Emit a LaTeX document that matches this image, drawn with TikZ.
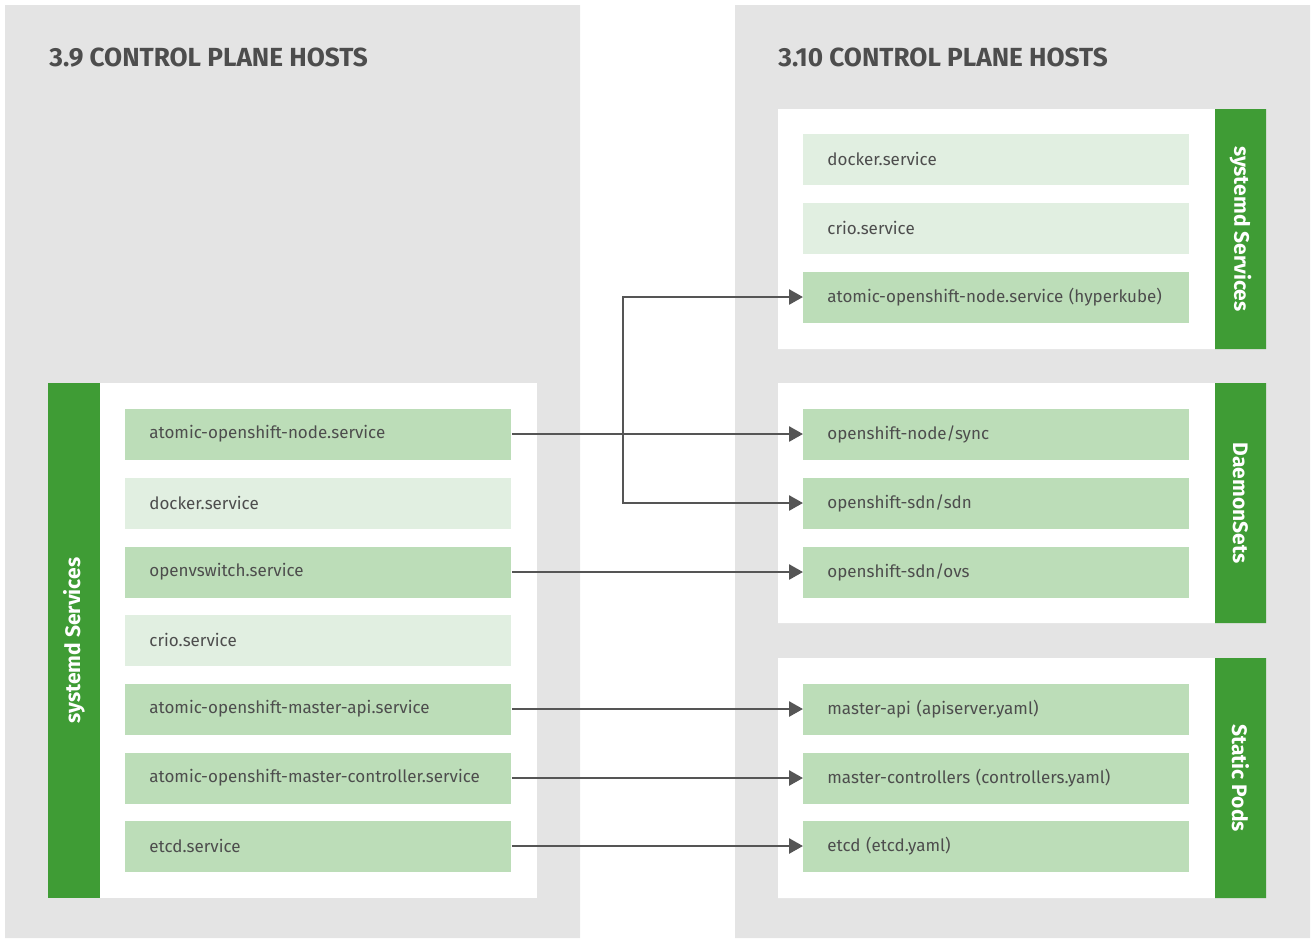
\documentclass[tikz,border=0pt]{standalone}
\usepackage{fontspec}
\setmainfont{Fira Sans}
\usetikzlibrary{arrows.meta}
\definecolor{hostgray}{HTML}{E4E4E4}
\definecolor{lightgreen}{HTML}{E1EFE1}
\definecolor{midgreen}{HTML}{BCDDB8}
\definecolor{darkgreen}{HTML}{3F9C35}
\definecolor{textgray}{HTML}{4D4D4D}
\definecolor{arrowgray}{HTML}{555555}
\tikzset{svc/.style={anchor=west,minimum height=25.5pt,text width=169pt,inner xsep=12pt,
    align=left,text=textgray,font=\fontsize{8.5}{10}\selectfont},
  moved/.style={svc,fill=midgreen},
  kept/.style={svc,fill=lightgreen},
  barlabel/.style={text=white,font=\fontsize{10.5}{12}\selectfont\bfseries},
  hosttitle/.style={anchor=base west,inner sep=0pt,text=textgray,font=\fontsize{13.1}{15}\selectfont\bfseries},
  link/.style={arrowgray,line width=1.3pt,-{Triangle[length=7pt,width=7.5pt]}}}
\begin{document}
\begin{tikzpicture}[x=0.5pt,y=-0.5pt]
\useasboundingbox (0,0) rectangle (1311,939);
\fill[hostgray] (5,5) rectangle (580,938) (735,5) rectangle (1310,938);
\node[hosttitle] (old) at (49,66) {3.9 CONTROL PLANE HOSTS};
\node[hosttitle] (new) at (778,66) {3.10 CONTROL PLANE HOSTS};
\fill[white] (100,383) rectangle (537,898);
\fill[white] (778,109) rectangle (1215,349) (778,383) rectangle (1215,623) (778,658) rectangle (1215,898);
\fill[darkgreen] (48,383) rectangle (100,898);
\fill[darkgreen] (1215,109) rectangle (1266,349) (1215,383) rectangle (1266,623) (1215,658) rectangle (1266,898);
\node[barlabel,rotate=90] (oldsys) at (74,640.5) {systemd Services};
\node[barlabel,rotate=-90] (newsys) at (1240.5,229) {systemd Services};
\node[barlabel,rotate=-90] (ds) at (1240.5,503) {DaemonSets};
\node[barlabel,rotate=-90] (sp) at (1240.5,778) {Static Pods};
\node[moved] (onode) at (125,434) {atomic-openshift-node.service};
\node[kept] (odocker) at (125,503) {docker.service};
\node[moved] (oovs) at (125,572) {openvswitch.service};
\node[kept] (ocrio) at (125,640) {crio.service};
\node[moved] (oapi) at (125,709) {atomic-openshift-master-api.service};
\node[moved] (octrl) at (125,778) {atomic-openshift-master-controller.service};
\node[moved] (oetcd) at (125,846) {etcd.service};
\node[kept] (ndocker) at (803,159) {docker.service};
\node[kept] (ncrio) at (803,228) {crio.service};
\node[moved] (nnode) at (803,297) {atomic-openshift-node.service (hyperkube)};
\node[moved] (nsync) at (803,434) {openshift-node/sync};
\node[moved] (nsdn) at (803,503) {openshift-sdn/sdn};
\node[moved] (novs) at (803,572) {openshift-sdn/ovs};
\node[moved] (napi) at (803,709) {master-api (apiserver.yaml)};
\node[moved] (nctrl) at (803,778) {master-controllers (controllers.yaml)};
\node[moved] (netcd) at (803,846) {etcd (etcd.yaml)};
\coordinate (split) at (623,434);
\draw[link] (onode) -- (nsync);
\draw[link] (split) |- (nnode.west);
\draw[link] (split) |- (nsdn.west);
\draw[link] (oovs) -- (novs);
\draw[link] (oapi) -- (napi);
\draw[link] (octrl) -- (nctrl);
\draw[link] (oetcd) -- (netcd);
\end{tikzpicture}
\end{document}
